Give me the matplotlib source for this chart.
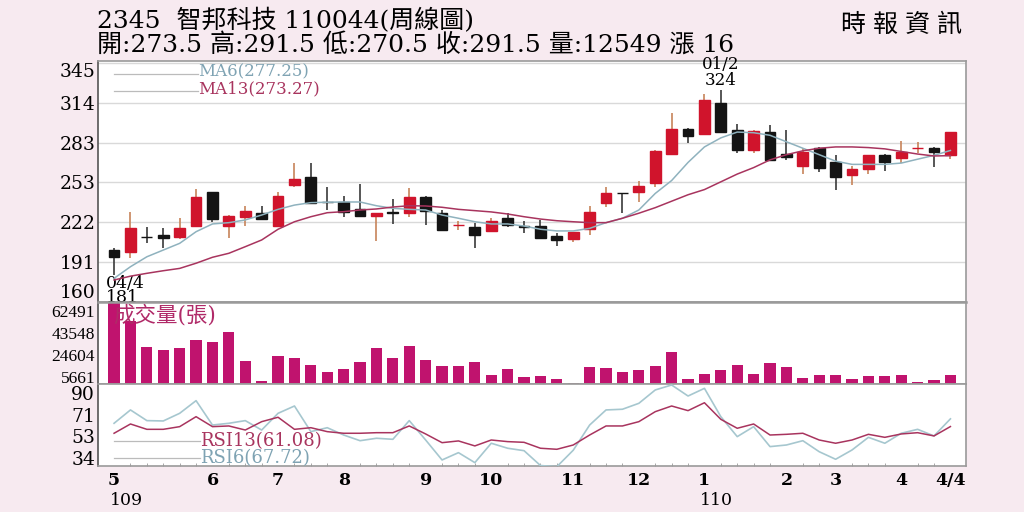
import matplotlib
matplotlib.use('Agg')
import matplotlib.pyplot as plt
import numpy as np

# ---------------- data ----------------
opens = [200.2, 198.9, 210.5, 211.9, 210.0, 218.8, 244.9, 218.8, 226.0, 229.1,
         218.8, 250.3, 256.5, 237.4, 237.2, 231.7, 226.6, 229.3, 229.1, 241.0,
         229.1, 219.6, 218.3, 215.2, 224.8, 218.5, 218.8, 211.3, 208.5, 216.5,
         236.4, 244.3, 245.4, 251.9, 274.6, 293.9, 289.8, 314.3, 293.1, 277.6,
         291.8, 274.3, 265.3, 279.4, 268.1, 258.5, 262.7, 273.8, 271.2, 279.3,
         279.4, 273.5]
highs = [201.8, 229.9, 218.3, 217.0, 224.8, 247.2, 245.5, 227.3, 234.3, 234.3,
         245.4, 267.8, 267.3, 249.2, 242.0, 251.3, 229.1, 239.5, 248.0, 242.0,
         231.2, 222.9, 221.4, 225.2, 229.1, 222.9, 223.5, 213.2, 214.4, 234.3,
         249.2, 244.5, 253.9, 278.0, 306.5, 294.5, 320.8, 324.0, 297.8, 292.8,
         297.0, 293.1, 279.0, 280.0, 273.8, 265.0, 274.0, 274.5, 284.8, 284.1,
         280.0, 291.5]
lows = [181.0, 193.8, 205.9, 201.6, 208.5, 217.8, 222.1, 209.3, 218.8, 223.5,
        218.0, 248.8, 235.9, 231.2, 226.0, 226.0, 207.4, 220.4, 226.0, 219.6,
        215.7, 215.7, 202.0, 215.0, 217.8, 213.2, 209.0, 203.3, 206.7, 211.9,
        233.3, 228.7, 237.6, 249.2, 274.0, 282.8, 289.5, 291.5, 275.6, 275.1,
        269.9, 269.9, 259.1, 260.9, 246.7, 250.6, 259.1, 261.6, 267.3, 275.1,
        264.7, 270.5]
closes = [194.8, 217.5, 210.0, 209.3, 217.5, 241.5, 224.0, 226.6, 230.2, 224.0,
          242.3, 255.0, 236.9, 237.2, 229.9, 226.6, 229.1, 229.1, 241.0, 230.4,
          215.7, 219.8, 211.9, 222.9, 219.6, 218.3, 209.3, 208.0, 214.4, 229.4,
          244.1, 244.1, 249.8, 277.1, 293.9, 288.5, 316.3, 291.8, 277.6, 292.4,
          269.9, 272.0, 276.3, 263.5, 256.5, 262.9, 273.8, 268.6, 276.3, 279.5,
          276.3, 291.5]
ma6 = [178.3, 187.3, 195.0, 200.2, 205.4, 214.4, 220.4, 221.4, 223.5, 227.3,
       231.7, 235.0, 236.9, 237.2, 237.4, 237.4, 234.5, 232.5, 231.7, 231.2,
       227.3, 224.8, 222.1, 220.4, 220.4, 218.8, 216.3, 215.0, 215.0, 217.0,
       221.4, 224.8, 231.2, 244.0, 254.0, 268.0, 280.0, 287.0, 291.5, 291.0,
       289.0, 284.0, 279.0, 274.0, 269.0, 266.5, 266.5, 266.5, 267.5, 270.5,
       273.5, 277.25]
ma13 = [177.0, 180.0, 182.2, 184.2, 186.0, 190.0, 194.6, 197.7, 202.8, 208.0,
        216.3, 222.1, 226.0, 229.1, 229.9, 231.2, 232.0, 233.5, 234.5, 234.3,
        233.3, 231.7, 230.7, 229.7, 228.1, 226.0, 224.2, 222.9, 222.1, 221.4,
        221.4, 224.8, 228.7, 233.0, 238.0, 243.0, 247.0, 253.0, 259.0, 264.0,
        270.0, 274.0, 277.0, 279.0, 280.0, 280.0, 279.5, 278.5, 276.5, 274.5,
        273.0, 273.27]
volumes = [71000, 53800, 31800, 28900, 31000, 38100, 35800, 44400, 19400, 2200,
           23700, 22400, 16300, 10000, 12900, 19200, 31000, 22400, 32300, 20900,
           15700, 15100, 18600, 8000, 12900, 6000, 6500, 4300, 900, 14600,
           13400, 10600, 12300, 15100, 27200, 4300, 8300, 12300, 16300, 8300,
           18300, 14300, 5400, 7700, 7700, 4300, 6500, 6500, 8000, 1700,
           3100, 7700]
rsi6 = [63.9, 75.4, 66.2, 65.9, 72.5, 83.4, 62.4, 63.9, 66.2, 58.1,
        72.5, 78.8, 56.7, 60.1, 53.8, 48.9, 51.0, 50.1, 66.2, 49.5,
        32.3, 38.6, 30.0, 46.7, 42.4, 40.3, 27.5, 26.5, 40.7, 62.4,
        75.4, 76.0, 81.1, 92.6, 96.9, 87.4, 94.0, 69.6, 52.4, 61.0,
        43.8, 45.2, 48.9, 39.4, 32.9, 40.9, 51.8, 46.7, 55.3, 58.7,
        53.0, 67.72]
rsi13 = [55.3, 63.3, 58.7, 58.7, 61.0, 69.6, 61.0, 61.6, 58.1, 65.3,
         69.1, 58.7, 60.1, 56.7, 55.3, 55.3, 55.8, 55.8, 61.6, 54.7,
         47.2, 48.7, 44.4, 49.5, 48.1, 47.5, 42.4, 41.5, 45.2, 53.8,
         61.6, 61.6, 65.3, 73.9, 78.8, 74.8, 81.6, 67.3, 59.6, 63.3,
         53.8, 54.4, 55.3, 49.5, 46.7, 49.5, 54.4, 51.8, 54.7, 55.8,
         53.0, 61.08]

price_ticks = [160, 191, 222, 253, 283, 314, 345]
vol_ticks = [5661, 24604, 43548, 62491]
rsi_ticks = [34, 53, 71, 90]
month_idx = [0, 6, 10, 14, 19, 23, 28, 32, 36, 41, 44, 48, 51]
month_labels = ['5', '6', '7', '8', '9', '10', '11', '12', '1', '2', '3', '4', '4/4']
year_marks = [(0, '109'), (36, '110')]

title1 = '2345  智邦科技 110044(周線圖)'
title2 = '開:273.5 高:291.5 低:270.5 收:291.5 量:12549 漲 16'
source = '時報資訊'

# ---------------- style ----------------
BG = '#F7EAF0'
RED = '#D0142C'
BLACK = '#141414'
RED_WICK = '#C7845A'
BLK_WICK = '#3A3A3A'
VOLC = '#C0136E'
MA6C = '#8FB2BE'
MA13C = '#A8345E'
GRID = '#D9D9D9'
SEP = '#9A9A9A'
SERIF = ['DejaVu Serif', 'Noto Sans CJK TC']
NARROW = ['Liberation Serif', 'Noto Sans CJK TC']

fig = plt.figure(figsize=(10.24, 5.12), dpi=100, facecolor=BG)
L = 98 / 1024
W = (966 - 98) / 1024
ax1 = fig.add_axes([L, 1 - 302 / 512, W, (302 - 61) / 512])
ax2 = fig.add_axes([L, 1 - 384 / 512, W, 82 / 512])
ax3 = fig.add_axes([L, 1 - 466 / 512, W, 82 / 512])

x = np.arange(len(closes))
o = np.array(opens); c = np.array(closes); h = np.array(highs); lo = np.array(lows)
up = c >= o

for ax in (ax1, ax2, ax3):
    ax.set_facecolor('white')
    ax.set_xlim(-0.98, 51.95)
    for s in ('top', 'bottom', 'right'):
        ax.spines[s].set_color(SEP)
        ax.spines[s].set_linewidth(1.2)
    ax.spines['left'].set_color('#555555')
    ax.spines['left'].set_linewidth(1.2)
    ax.tick_params(axis='y', length=0, pad=2)
    ax.tick_params(axis='x', length=0)

# ---- price panel ----
ax1.set_ylim(160, 346.5)
ax1.set_yticks(price_ticks)
ax1.set_yticklabels([str(t) for t in price_ticks], family=SERIF, fontsize=13.5)
labs = ax1.get_yticklabels()
labs[0].set_va('bottom')
labs[-1].set_va('top')
ax1.set_xticks([])
for t in price_ticks[1:]:
    ax1.axhline(t, color=GRID, lw=1.0, zorder=0)

wick_colors = np.where(up, RED_WICK, BLK_WICK)
ax1.vlines(x, lo, h, colors=wick_colors, lw=1.2, zorder=2)
body_colors = np.where(up, RED, BLACK)
ax1.bar(x, np.abs(c - o), bottom=np.minimum(o, c), width=0.66,
        color=body_colors, edgecolor=body_colors, linewidth=1.0, zorder=3)
ax1.plot(x, ma6, color=MA6C, lw=1.1, zorder=4)
ax1.plot(x, ma13, color=MA13C, lw=1.1, zorder=4)

# legend
ax1.plot([0.018, 0.115], [0.944, 0.944], transform=ax1.transAxes, color='#BBBBBB', lw=0.9)
ax1.plot([0.018, 0.115], [0.874, 0.874], transform=ax1.transAxes, color='#BBBBBB', lw=0.9)
ax1.text(0.115, 0.956, 'MA6(277.25)', transform=ax1.transAxes, color='#7FA3B3',
         family=SERIF, fontsize=12, va='center', ha='left')
ax1.text(0.115, 0.884, 'MA13(273.27)', transform=ax1.transAxes, color=MA13C,
         family=SERIF, fontsize=12, va='center', ha='left')

# high / low annotations
imax = int(np.argmax(h)); imin = int(np.argmin(lo))
ax1.annotate('01/2\n324', (x[imax], h[imax]), xytext=(0, 1), textcoords='offset points',
             ha='center', va='bottom', family=SERIF, fontsize=12, linespacing=0.9)
ax1.annotate('04/4\n181', (x[imin], lo[imin]), xytext=(-6, 0), textcoords='offset points',
             ha='left', va='top', family=SERIF, fontsize=12.5, linespacing=0.8)

# ---- volume panel ----
ax2.set_ylim(0, 70500)
ax2.bar(x, volumes, width=0.68, color=VOLC, zorder=2)
ax2.set_yticks(vol_ticks)
ax2.set_yticklabels([str(t) for t in vol_ticks], family=NARROW, fontsize=12.5)
ax2.set_xticks([])
ax2.spines['top'].set_linewidth(1.8)
ax2.text(0.018, 0.835, '成交量(張)', transform=ax2.transAxes, color='#B02A68',
         family=SERIF, fontsize=15.5, va='center', ha='left', zorder=5)

# ---- RSI panel ----
ax3.set_ylim(27.1, 97.75)
ax3.plot(x, rsi6, color='#A6C7CF', lw=1.2, zorder=3)
ax3.plot(x, rsi13, color=MA13C, lw=1.1, zorder=3)
ax3.set_yticks(rsi_ticks)
ax3.set_yticklabels([str(t) for t in rsi_ticks], family=SERIF, fontsize=13.5)
ax3.plot([0.018, 0.117], [0.30, 0.30], transform=ax3.transAxes, color='#BBBBBB', lw=0.9)
ax3.plot([0.018, 0.117], [0.095, 0.095], transform=ax3.transAxes, color='#BBBBBB', lw=0.9)
ax3.text(0.117, 0.31, 'RSI13(61.08)', transform=ax3.transAxes, color=MA13C,
         family=SERIF, fontsize=13, va='center', ha='left')
ax3.text(0.117, 0.10, 'RSI6(67.72)', transform=ax3.transAxes, color='#7FA3B3',
         family=SERIF, fontsize=13, va='center', ha='left')
ax3.set_xticks(month_idx)
ax3.set_xticklabels(month_labels, family=SERIF, fontsize=12.5, fontweight='bold')
ax3.tick_params(axis='x', length=0, pad=4)
ax3.set_xticks(x, minor=True)
ax3.tick_params(axis='x', which='minor', length=2, direction='in', color='#999999')
for xi, lab in year_marks:
    ax3.annotate(lab, (xi, 0), xycoords=('data', 'axes fraction'), xytext=(-3, -19),
                 textcoords='offset points', ha='left', va='top', family=SERIF, fontsize=12.5)

# ---- header ----
fig.text(97 / 1024, 1 - 21 / 512, title1, family=SERIF, fontsize=18, va='center', ha='left')
fig.text(97 / 1024, 1 - 45 / 512, title2, family=SERIF, fontsize=18, va='center', ha='left')
for k, ch in enumerate(source):
    fig.text((853 + 32 * k) / 1024, 1 - 25 / 512, ch, family=SERIF, fontsize=18,
             va='center', ha='center')

fig.savefig('out.png', dpi=100, facecolor=BG)
